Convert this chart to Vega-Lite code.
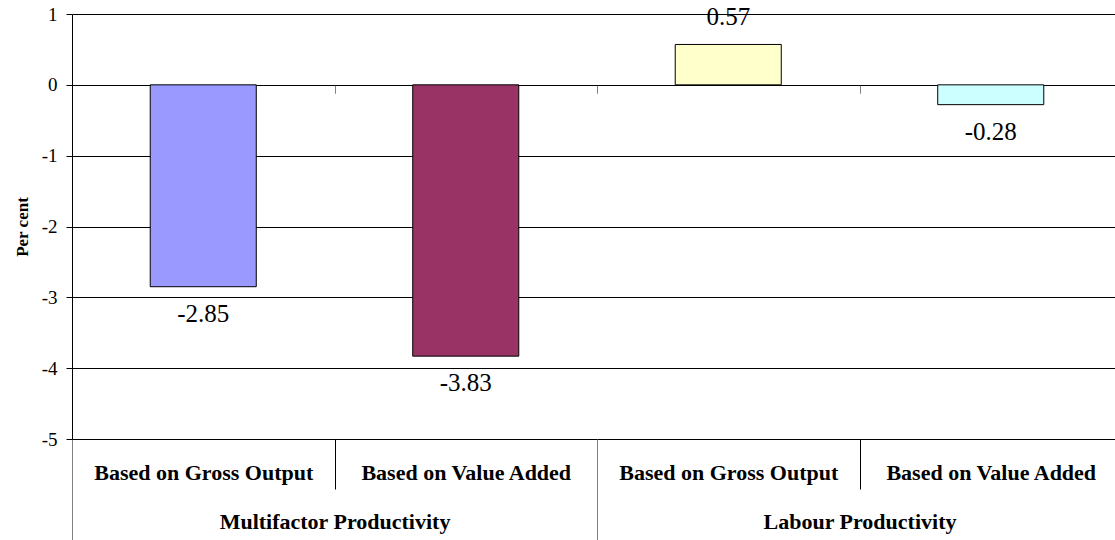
{
  "$schema": "https://vega.github.io/schema/vega-lite/v6.json",
  "width": 1043,
  "height": 425,
  "autosize": {"type": "none"},
  "padding": {"left": 72, "top": 14, "right": 0, "bottom": 101},
  "background": "white",
  "config": {
    "view": {"stroke": null},
    "font": "Times New Roman, Liberation Serif, serif",
    "text": {"font": "Times New Roman, Liberation Serif, serif"},
    "axis": {"labelFont": "Times New Roman, Liberation Serif, serif", "titleFont": "Times New Roman, Liberation Serif, serif", "labelColor": "black", "titleColor": "black", "labelLimit": 0}
  },
  "data": {
    "values": [
      {"key": "Multifactor Productivity / Based on Gross Output", "group": "Multifactor Productivity", "measure": "Based on Gross Output", "value": -2.85},
      {"key": "Multifactor Productivity / Based on Value Added", "group": "Multifactor Productivity", "measure": "Based on Value Added", "value": -3.83},
      {"key": "Labour Productivity / Based on Gross Output", "group": "Labour Productivity", "measure": "Based on Gross Output", "value": 0.57},
      {"key": "Labour Productivity / Based on Value Added", "group": "Labour Productivity", "measure": "Based on Value Added", "value": -0.28}
    ]
  },
  "resolve": {"scale": {"x": "independent"}, "axis": {"x": "independent"}},
  "layer": [
    {
      "mark": {"type": "bar", "stroke": "black", "strokeWidth": 1, "width": {"band": 0.404}},
      "encoding": {
        "x": {
          "field": "key", "type": "nominal", "sort": null,
          "scale": {
            "domain": ["Multifactor Productivity / Based on Gross Output", "Multifactor Productivity / Based on Value Added", "Labour Productivity / Based on Gross Output", "Labour Productivity / Based on Value Added"],
            "range": [0, 1050], "paddingInner": 0, "paddingOuter": 0
          },
          "axis": {
            "title": null, "orient": "bottom", "domain": false, "grid": false,
            "tickBand": "extent", "tickSize": 50, "tickColor": "black", "tickWidth": 1,
            "labelAngle": 0, "labelFontSize": 22, "labelFontWeight": "bold", "labelBaseline": "middle",
            "labelPadding": -17, "labelLimit": 0, "labelExpr": "split(datum.value, ' / ')[1]"
          }
        },
        "y": {
          "field": "value", "type": "quantitative",
          "scale": {"domain": [-5, 1], "nice": false, "zero": false},
          "axis": {
            "values": [-5, -4, -3, -2, -1, 0, 1],
            "grid": true, "gridColor": "black", "gridOpacity": 1, "gridWidth": 1,
            "domainColor": "black", "tickColor": "black", "tickSize": 6,
            "labelFontSize": 19, "labelPadding": 9, "labelExpr": "toString(datum.value)",
            "title": "Per cent", "titleFontSize": 17, "titleFontWeight": "bold", "titlePadding": 10
          }
        },
        "color": {
          "field": "key", "type": "nominal", "legend": null,
          "scale": {
            "domain": ["Multifactor Productivity / Based on Gross Output", "Multifactor Productivity / Based on Value Added", "Labour Productivity / Based on Gross Output", "Labour Productivity / Based on Value Added"],
            "range": ["#9999FF", "#993366", "#FFFFCC", "#CCFFFF"]
          }
        }
      }
    },
    {
      "transform": [{"filter": "datum.value < 0"}],
      "mark": {"type": "text", "fontSize": 25, "color": "black", "baseline": "middle", "dy": 27},
      "encoding": {
        "x": {
          "field": "key", "type": "nominal", "sort": null,
          "scale": {
            "domain": ["Multifactor Productivity / Based on Gross Output", "Multifactor Productivity / Based on Value Added", "Labour Productivity / Based on Gross Output", "Labour Productivity / Based on Value Added"],
            "range": [0, 1050], "paddingInner": 0, "paddingOuter": 0
          },
          "axis": {
            "title": null, "orient": "bottom", "offset": -353.75, "domain": false, "grid": false,
            "labels": false, "tickBand": "extent", "tickSize": 8, "tickColor": "#808080", "tickWidth": 1
          }
        },
        "y": {"field": "value", "type": "quantitative"},
        "text": {"field": "value", "type": "nominal"}
      }
    },
    {
      "transform": [{"filter": "datum.value > 0"}],
      "mark": {"type": "text", "fontSize": 25, "color": "black", "baseline": "middle", "dy": -27},
      "encoding": {
        "x": {
          "field": "key", "type": "nominal", "sort": null,
          "scale": {
            "domain": ["Multifactor Productivity / Based on Gross Output", "Multifactor Productivity / Based on Value Added", "Labour Productivity / Based on Gross Output", "Labour Productivity / Based on Value Added"],
            "range": [0, 1050], "paddingInner": 0, "paddingOuter": 0
          },
          "axis": null
        },
        "y": {"field": "value", "type": "quantitative"},
        "text": {"field": "value", "type": "nominal"}
      }
    },
    {
      "mark": {"type": "point", "opacity": 0},
      "encoding": {
        "x": {
          "field": "group", "type": "nominal", "sort": null,
          "scale": {"domain": ["Multifactor Productivity", "Labour Productivity"], "range": [0, 1050], "paddingInner": 0, "paddingOuter": 0},
          "axis": {
            "title": null, "orient": "bottom", "domain": false, "grid": false,
            "tickBand": "extent", "tickSize": 101, "tickColor": "#808080", "tickWidth": 1,
            "labelAngle": 0, "labelFontSize": 22, "labelFontWeight": "bold", "labelBaseline": "middle",
            "labelPadding": -19, "labelLimit": 0
          }
        },
        "y": {"field": "value", "type": "quantitative"}
      }
    }
  ]
}
